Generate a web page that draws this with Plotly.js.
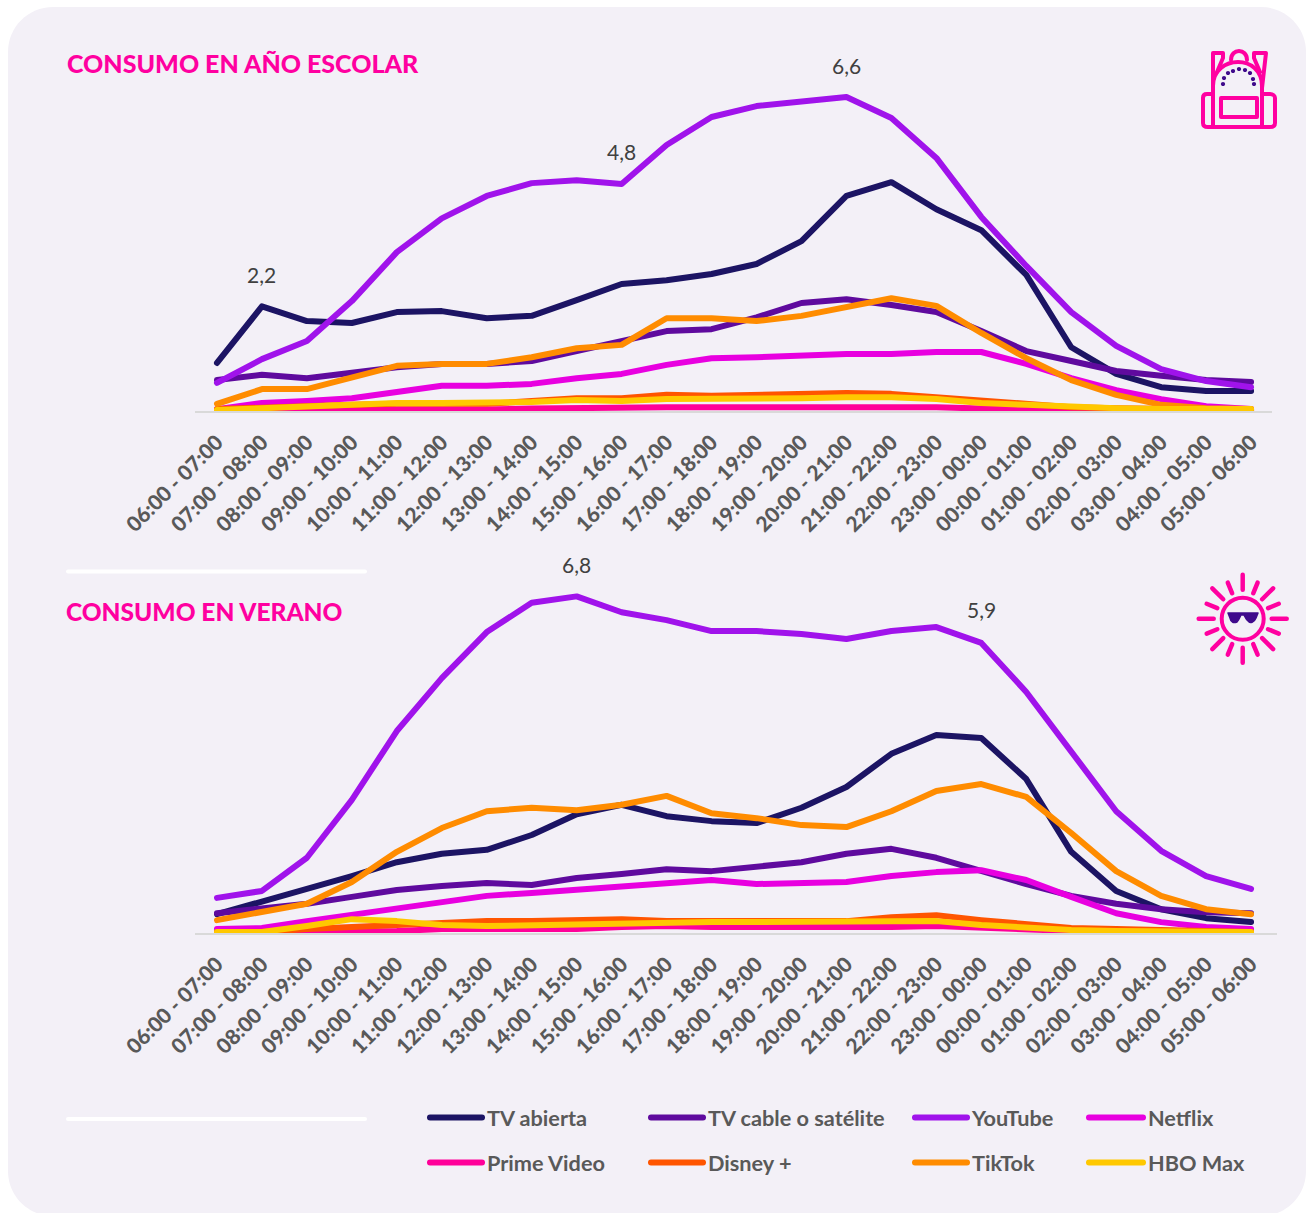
<!DOCTYPE html>
<html><head><meta charset="utf-8">
<script src="https://cdn.plot.ly/plotly-3.0.1.min.js"></script>
<style>
html,body{margin:0;padding:0;background:#fff;overflow:hidden}
#c{width:1306px;height:1213px}
.js-line{stroke-linecap:round;stroke-linejoin:round}
.shapelayer path{stroke-linecap:round;stroke-linejoin:round}
</style></head><body><div id="c"></div>
<script>
const hours=["06:00 - 07:00","07:00 - 08:00","08:00 - 09:00","09:00 - 10:00","10:00 - 11:00","11:00 - 12:00","12:00 - 13:00","13:00 - 14:00","14:00 - 15:00","15:00 - 16:00","16:00 - 17:00","17:00 - 18:00","18:00 - 19:00","19:00 - 20:00","20:00 - 21:00","21:00 - 22:00","22:00 - 23:00","23:00 - 00:00","00:00 - 01:00","01:00 - 02:00","02:00 - 03:00","03:00 - 04:00","04:00 - 05:00","05:00 - 06:00"];
const names=["TV abierta","TV cable o satélite","YouTube","Netflix","Prime Video","Disney +","TikTok","HBO Max"];
const colors=["#1C1464","#5F0A9E","#A013EB","#E800E0","#FF0099","#FF5500","#FF8C00","#FFC800"];
// Año escolar
const tvAbiertaE=[1.01,2.2,1.89,1.85,2.08,2.10,1.95,2.0,2.33,2.67,2.75,2.88,3.09,3.57,4.52,4.81,4.24,3.80,2.86,1.34,.78,.50,.42,.42];
const tvCableE=[.65,.76,.69,.82,.92,.99,.99,1.05,1.26,1.45,1.68,1.72,1.97,2.27,2.35,2.23,2.08,1.68,1.26,1.05,.84,.74,.65,.61];
const youtubeE=[.59,1.09,1.47,2.31,3.34,4.05,4.52,4.79,4.85,4.77,5.59,6.18,6.41,6.49,6.6,6.16,5.32,4.08,3.05,2.08,1.37,.88,.63,.50];
const netflixE=[.04,.17,.21,.27,.40,.53,.53,.57,.69,.78,.97,1.11,1.13,1.18,1.20,1.20,1.24,1.24,.99,.69,.44,.25,.1,.04];
const primeE=[.01,.01,.02,.02,.02,.03,.03,.05,.07,.06,.08,.08,.08,.08,.09,.08,.08,.05,.03,.02,.01,.01,.01,.01];
const disneyE=[.04,.08,.1,.13,.15,.15,.15,.21,.27,.27,.34,.32,.34,.38,.38,.36,.29,.21,.15,.08,.06,.04,.04,.02];
const tiktokE=[.15,.46,.46,.71,.95,.99,.99,1.13,1.32,1.39,1.95,1.95,1.89,2.0,2.18,2.37,2.21,1.64,1.11,.65,.34,.13,.06,.04];
const hboE=[.02,.06,.08,.15,.17,.17,.17,.19,.23,.21,.25,.25,.25,.27,.29,.29,.25,.17,.13,.08,.06,.04,.04,.04];
// Verano
const tvAbiertaV=[.38,.65,.89,1.15,1.43,1.60,1.68,1.98,2.40,2.59,2.36,2.26,2.22,2.53,2.95,3.62,4.0,3.94,3.11,1.64,.85,.48,.30,.22];
const tvCableV=[.40,.48,.59,.73,.87,.95,1.01,.97,1.11,1.19,1.29,1.25,1.33,1.43,1.60,1.70,1.52,1.25,.99,.75,.59,.48,.42,.40];
const youtubeV=[.71,.85,1.52,2.69,4.08,5.15,6.08,6.67,6.8,6.48,6.32,6.10,6.10,6.04,5.94,6.10,6.18,5.86,4.87,3.68,2.46,1.66,1.15,.89];
const netflixV=[.08,.10,.24,.36,.48,.63,.75,.81,.87,.93,.99,1.07,.99,1.01,1.03,1.15,1.23,1.27,1.07,.73,.40,.22,.12,.08];
const primeV=[.02,.02,.02,.02,.04,.08,.08,.08,.08,.12,.14,.12,.12,.1,.12,.12,.14,.1,.06,.04,.03,.03,.02,.02];
const disneyV=[.02,.02,.08,.12,.14,.18,.24,.24,.26,.28,.24,.24,.22,.22,.24,.32,.36,.26,.18,.1,.08,.06,.04,.02];
const tiktokV=[.26,.42,.59,1.03,1.64,2.12,2.46,2.53,2.48,2.59,2.77,2.42,2.32,2.18,2.14,2.46,2.87,3.01,2.75,2.02,1.25,.75,.48,.38];
const hboV=[.02,.02,.14,.28,.24,.16,.14,.16,.18,.2,.22,.22,.22,.22,.24,.24,.24,.16,.1,.06,.04,.04,.02,.02];
const seriesE=[tvAbiertaE,tvCableE,youtubeE,netflixE,primeE,disneyE,tiktokE,hboE];
const seriesV=[tvAbiertaV,tvCableV,youtubeV,netflixV,primeV,disneyV,tiktokV,hboV];
const labelsE=[[1,2.2,"2,2"],[9,4.8,"4,8"],[14,6.6,"6,6"]];
const labelsV=[[8,6.8,"6,8"],[17,5.9,"5,9"]];

const W=1306,H=1213,FF='Lato, "Open Sans", sans-serif';
const px=x=>x/W, py=y=>1-y/H;
const path=s=>{let i=0;return s.replace(/-?\d+(\.\d+)?/g,m=>{const v=(i++%2===0)?px(+m):py(+m);return v.toFixed(6);});};
const PINK="#FF00A0",IND="#3F0A8C";
const sh=(d,color,w,fill)=>({type:"path",xref:"paper",yref:"paper",path:path(d),line:{color:color,width:w},fillcolor:fill||"rgba(0,0,0,0)",layer:"above"});
function circlePath(cx,cy,r){
  const k=.5523*r;
  return `M ${cx-r} ${cy} C ${cx-r} ${cy-k} ${cx-k} ${cy-r} ${cx} ${cy-r} C ${cx+k} ${cy-r} ${cx+r} ${cy-k} ${cx+r} ${cy} C ${cx+r} ${cy+k} ${cx+k} ${cy+r} ${cx} ${cy+r} C ${cx-k} ${cy+r} ${cx-r} ${cy+k} ${cx-r} ${cy} Z`;
}
const shapes=[];
// panel
shapes.push({type:"path",xref:"paper",yref:"paper",layer:"below",fillcolor:"#F3F0F7",line:{width:0},
 path:path("M 8 52 C 8 27 28 7 53 7 L 1261 7 C 1286 7 1306 27 1306 52 L 1306 1171 C 1306 1196 1286 1216 1261 1216 L 53 1216 C 28 1216 8 1196 8 1171 Z")});
// separators
shapes.push(sh("M 68 571.5 L 365 571.5","#FFFFFF",4));
shapes.push(sh("M 68 1119 L 365 1119","#FFFFFF",4));
// backpack
[
 "M 1213 127 L 1213 86 C 1213 70 1226 62 1238 62 C 1250 62 1262 70 1262 86 L 1262 127",
 "M 1216 127 L 1259 127",
 "M 1231 60 C 1231 48 1247 48 1247 60",
 "M 1213 88 L 1213 53 L 1223 53 L 1223 58 L 1217 72",
 "M 1262 88 L 1266 53 L 1254 53 L 1254 58 L 1260 72",
 "M 1213 94 L 1207 94 C 1204 94 1203 96 1203 98 L 1203 123 C 1203 126 1205 127 1208 127 L 1216 127",
 "M 1262 94 L 1270 94 C 1273 94 1275 96 1275 98 L 1275 123 C 1275 126 1273 127 1270 127 L 1259 127",
 "M 1221 98 L 1257 98 L 1257 117 L 1221 117 Z"
].forEach(d=>shapes.push(sh(d,PINK,4)));
[[1223,84],[1224,78],[1228,73],[1233,71],[1239,69],[1245,70],[1250,73],[1253,79],[1254,84]].forEach(p=>shapes.push(sh(circlePath(p[0],p[1],2.1),IND,0,IND)));
// sun
const cx=1242.7,cy=618.7;
shapes.push(sh(circlePath(cx,cy,21),PINK,4));
for(let i=0;i<16;i++){
  const a=i*Math.PI/8,odd=i%2===1,cardinal=i%4===0;
  const r1=cardinal?29:27.5,r2=cardinal?44:(odd?39:43);
  shapes.push(sh(`M ${cx+r1*Math.cos(a)} ${cy+r1*Math.sin(a)} L ${cx+r2*Math.cos(a)} ${cy+r2*Math.sin(a)}`,PINK,4.5));
}
shapes.push(sh("M 1228 613 L 1258 613 L 1256 618 C 1254 623 1250 623 1249 622 C 1246 620 1245 617 1244 615 L 1241 615 C 1240 617 1239 620 1237 622 C 1234 623 1231 623 1230 618 Z",IND,1.5,IND));

const legendPos=[[428,1118],[649,1118],[913,1118],[1087,1118],[428,1163],[649,1163],[913,1163],[1087,1163]];
const legendItemWidth=[52,52,52,54,52,52,52,54];
const traces=[];
const lid=i=>i===0?"legend":"legend"+(i+1);
seriesE.forEach((v,i)=>traces.push({type:"scatter",mode:"lines",x:hours,y:v,name:names[i],xaxis:"x",yaxis:"y",cliponaxis:false,line:{color:colors[i],width:6},legend:lid(i),showlegend:true,hoverinfo:"x+y+name"}));
seriesV.forEach((v,i)=>traces.push({type:"scatter",mode:"lines",x:hours,y:v,name:names[i],xaxis:"x2",yaxis:"y2",cliponaxis:false,line:{color:colors[i],width:6},showlegend:false,hoverinfo:"x+y+name"}));

const annotations=[
 {text:"CONSUMO EN AÑO ESCOLAR",xref:"paper",yref:"paper",x:px(65),y:py(63),xanchor:"left",yanchor:"middle",showarrow:false,font:{family:FF,size:25,color:"#FF00A0",weight:900}},
 {text:"CONSUMO EN VERANO",xref:"paper",yref:"paper",x:px(64),y:py(611),xanchor:"left",yanchor:"middle",showarrow:false,font:{family:FF,size:24.5,color:"#FF00A0",weight:900}},
];
const lab=(arr,xr,yr)=>arr.forEach(l=>annotations.push({text:l[2],x:hours[l[0]],y:l[1],xref:xr,yref:yr,showarrow:false,yanchor:"bottom",yshift:17,font:{family:FF,size:21,color:"#404040"}}));
lab(labelsE,"x","y");lab(labelsV,"x2","y2");

const xax=(anchor,right,upper)=>({type:"category",categoryorder:"array",categoryarray:hours,range:[-0.5,upper],domain:[px(194.5),px(right)],anchor:anchor,showgrid:false,zeroline:false,showline:true,linecolor:"#D9D9D9",linewidth:1.5,ticks:"",tickangle:-45,tickmode:"array",tickvals:hours,ticktext:hours,ticklabelstandoff:9,tickfont:{family:FF,size:21,color:"#595959",weight:900},automargin:false});
const layout={width:W,height:H,margin:{l:0,r:0,t:0,b:0},paper_bgcolor:"#FFFFFF",plot_bgcolor:"rgba(0,0,0,0)",font:{family:FF},hovermode:false,
 xaxis:xax("y",1272,23.465),xaxis2:xax("y2",1277,23.577),
 yaxis:{domain:[py(411),py(78)],range:[0,7],visible:false,fixedrange:true},
 yaxis2:{domain:[py(933),py(587)],range:[0,6.99],visible:false,fixedrange:true},
 shapes:shapes,annotations:annotations};
legendPos.forEach((p,i)=>{layout[lid(i)]={x:px(p[0]-3),y:py(p[1]),xanchor:"left",yanchor:"middle",bgcolor:"rgba(0,0,0,0)",itemwidth:legendItemWidth[i],font:{family:FF,size:21.7,color:"#595959",weight:700},orientation:"v",itemclick:false,itemdoubleclick:false};});
Plotly.newPlot("c",traces,layout,{displayModeBar:false});
</script></body></html>
